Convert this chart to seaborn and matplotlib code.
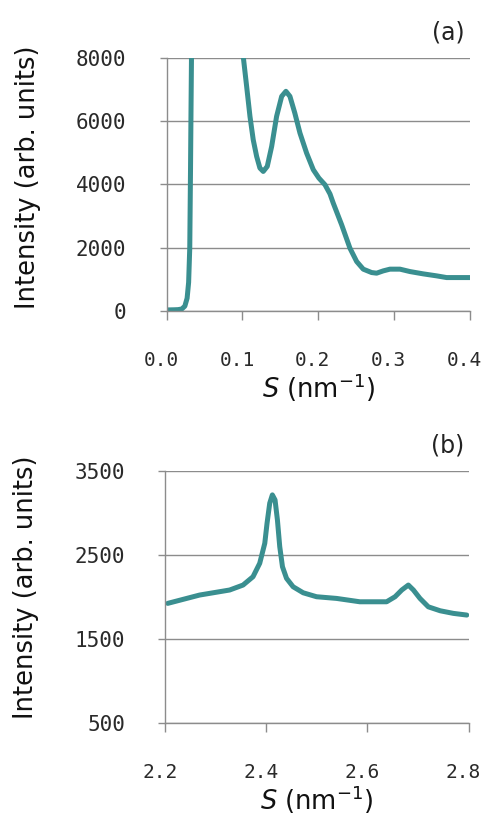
import numpy as np
import pandas as pd
import matplotlib
matplotlib.use("Agg")
import matplotlib.pyplot as plt
import matplotlib.transforms as mtransforms
import seaborn as sns

# Small-angle region (a)
s_small = [0.0, 0.010, 0.015, 0.020, 0.024, 0.027, 0.029, 0.0305, 0.0315,
           0.0322, 0.0328, 0.036, 0.045, 0.060, 0.080, 0.095,
           0.101, 0.1055, 0.1099, 0.1142, 0.1187, 0.123, 0.1274, 0.1327,
           0.1385, 0.145, 0.1517, 0.1573, 0.1626, 0.169, 0.1758, 0.1846,
           0.1934, 0.2008, 0.2088, 0.2154, 0.2197, 0.2308, 0.2417, 0.2506,
           0.2593, 0.2703, 0.2769, 0.2857, 0.2945, 0.3077, 0.3209, 0.3384,
           0.356, 0.3692, 0.3824, 0.400]
i_small = [30, 35, 40, 60, 150, 400, 900, 2000, 4500,
           6500, 8100, 14000, 22000, 30000, 22000, 12000,
           8050, 7100, 6150, 5410, 4885, 4518, 4410, 4570,
           5200, 6150, 6785, 6945, 6785, 6260, 5625, 4990,
           4465, 4200, 3990, 3700, 3410, 2723, 1985, 1561,
           1320, 1213, 1193, 1266, 1320, 1320, 1244, 1171,
           1108, 1054, 1054, 1054]

# Wide-angle region (b)
s_wide = [2.205, 2.268, 2.3275, 2.354, 2.3737, 2.387, 2.397, 2.4015, 2.4068,
          2.412, 2.4173, 2.422, 2.4266, 2.432, 2.440, 2.453, 2.473, 2.4994,
          2.539, 2.585, 2.638, 2.6547, 2.668, 2.681, 2.691, 2.704, 2.7205,
          2.744, 2.770, 2.7966]
i_wide = [1923, 2022, 2082, 2141, 2240, 2400, 2638, 2877, 3115,
          3214, 3154, 2916, 2598, 2359, 2221, 2121, 2049, 2002,
          1982, 1942, 1942, 2002, 2082, 2141, 2082, 1982, 1882,
          1835, 1804, 1784]

ticks_a_x = [0.0, 0.1, 0.2, 0.3, 0.4]
ticks_a_y = [0, 2000, 4000, 6000, 8000]
ticks_b_x = [2.2, 2.4, 2.6, 2.8]
ticks_b_y = [500, 1500, 2500, 3500]

sns.set_theme(style="white")
plt.rcParams["font.family"] = ["DejaVu Sans"]

LINE = "#3a8f90"
GRID = "#8c8c8c"

fig = plt.figure(figsize=(4.83, 8.16), dpi=100)
ax_a = fig.add_axes([0.345, 0.619, 0.628, 0.310])
ax_b = fig.add_axes([0.342, 0.114, 0.628, 0.309])

df_a = pd.DataFrame({"S": s_small, "I": i_small})
df_b = pd.DataFrame({"S": s_wide, "I": i_wide})

for ax, df in ((ax_a, df_a), (ax_b, df_b)):
    sns.lineplot(data=df, x="S", y="I", ax=ax, color=LINE, lw=3.6,
                 estimator=None, sort=False,
                 solid_joinstyle="round", solid_capstyle="round")


def style(ax, xt, yt, tag, tag_y, ylab_y):
    ax.set_xlim(xt[0], xt[-1])
    ax.set_ylim(yt[0], yt[-1])
    ax.set_xticks(xt)
    ax.set_yticks(yt)
    ax.set_xticklabels(["{:.1f}".format(v) for v in xt])
    ax.set_yticklabels([str(v) for v in yt])
    ax.grid(axis="y", color=GRID, lw=1.0)
    ax.grid(axis="x", visible=False)
    ax.set_axisbelow(True)
    for side in ("top", "right"):
        ax.spines[side].set_visible(False)
    for side in ("left", "bottom"):
        ax.spines[side].set_color(GRID)
        ax.spines[side].set_linewidth(1.0)
    ax.tick_params(axis="x", direction="out", length=6.5, width=1.0,
                   color=GRID, pad=22.5, labelsize=14, labelcolor="#2a2a2a",
                   bottom=True)
    ax.tick_params(axis="y", direction="out", length=5, width=1.0,
                   color=GRID, pad=24, labelsize=15, labelcolor="#2a2a2a",
                   left=True)
    shift = mtransforms.ScaledTranslation(-5.5 / 100, 0, fig.dpi_scale_trans)
    for lab in ax.get_xticklabels():
        lab.set_family("DejaVu Sans Mono")
        lab.set_transform(lab.get_transform() + shift)
    for lab in ax.get_yticklabels():
        lab.set_family("DejaVu Sans Mono")
    ax.set_ylabel("Intensity (arb. units)", fontsize=18.5, color="#111111")
    ax.yaxis.set_label_coords(-0.415, ylab_y)
    ax.set_xlabel(r"$\mathit{S}$ (nm$^{-1}$)", fontsize=18.5, color="#111111",
                  labelpad=1)
    ax.text(0.93, tag_y, tag, transform=ax.transAxes, fontsize=17,
            ha="center", va="center", color="#222222")


style(ax_a, ticks_a_x, ticks_a_y, "(a)", 1.10, 0.527)
style(ax_b, ticks_b_x, ticks_b_y, "(b)", 1.10, 0.537)

fig.savefig("out.png", dpi=100, facecolor="white")
